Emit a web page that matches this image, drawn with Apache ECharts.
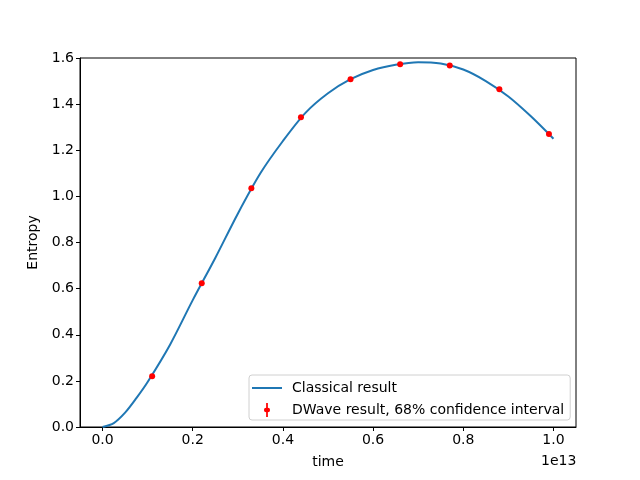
<!DOCTYPE html>
<html>
<head>
<meta charset="utf-8">
<script src="https://cdn.jsdelivr.net/npm/echarts@6/dist/echarts.min.js"></script>
<style>html,body{margin:0;padding:0;background:#fff}#c{width:640px;height:480px}</style>
</head>
<body>
<div id="c"></div>
<script>
// time in units of 1e13
const classicalTime = [0, 0.025, 0.05, 0.075, 0.1, 0.15, 0.2, 0.25, 0.3, 0.35, 0.4, 0.45, 0.5, 0.55, 0.6, 0.65, 0.7, 0.75, 0.8, 0.85, 0.9, 0.95, 1.0];
const classicalEntropy = [0, 0.017, 0.062, 0.125, 0.195, 0.358, 0.55, 0.733, 0.925, 1.10, 1.24, 1.362, 1.447, 1.508, 1.548, 1.571, 1.582, 1.576, 1.55, 1.50, 1.433, 1.347, 1.25];
const dwaveTime = [0.11, 0.22, 0.33, 0.44, 0.55, 0.66, 0.77, 0.88, 0.99];
const dwaveEntropy = [0.220, 0.623, 1.035, 1.343, 1.508, 1.573, 1.568, 1.464, 1.270];
const xTicks = [0.0, 0.2, 0.4, 0.6, 0.8, 1.0];
const yTicks = [0.0, 0.2, 0.4, 0.6, 0.8, 1.0, 1.2, 1.4, 1.6];

const font = 'DejaVu Sans';
const fs = 14;
const chart = echarts.init(document.getElementById('c'), null, {renderer: 'canvas'});
chart.setOption({
  animation: false,
  backgroundColor: '#fff',
  textStyle: {fontFamily: font},
  grid: {left: 80, right: 64, top: 58, bottom: 53, show: true, borderColor: '#000', borderWidth: 1, containLabel: false},
  xAxis: {
    type: 'value', min: -0.05, max: 1.05,
    name: 'time', nameLocation: 'middle', nameGap: 28,
    nameTextStyle: {fontFamily: font, fontSize: fs, color: '#000'},
    axisLine: {show: true, onZero: false, lineStyle: {color: '#000', width: 1}},
    axisTick: {show: true, length: 4, lineStyle: {color: '#000'}, customValues: xTicks},
    axisLabel: {show: true, fontFamily: font, fontSize: fs, color: '#000', margin: 6, customValues: xTicks,
      formatter: v => v.toFixed(1)},
    splitLine: {show: false}
  },
  yAxis: {
    type: 'value', min: 0, max: 1.6, interval: 0.2,
    name: 'Entropy', nameLocation: 'middle', nameGap: 35,
    nameTextStyle: {fontFamily: font, fontSize: fs, color: '#000'},
    axisLine: {show: true, onZero: false, lineStyle: {color: '#000', width: 1}},
    axisTick: {show: true, length: 4, lineStyle: {color: '#000'}, customValues: yTicks},
    axisLabel: {show: true, fontFamily: font, fontSize: fs, color: '#000', margin: 6, customValues: yTicks,
      formatter: v => v.toFixed(1)},
    splitLine: {show: false}
  },
  legend: {
    orient: 'vertical', left: 249, top: 375,
    backgroundColor: 'rgba(255,255,255,0.8)', borderColor: '#d0d0d0', borderWidth: 1, borderRadius: 3,
    padding: [6, 6, 3, 3], itemGap: 8, itemWidth: 30, itemHeight: 14,
    textStyle: {fontFamily: font, fontSize: fs, color: '#000', padding: [0, 0, 0, 5]},
    data: [
      {name: 'Classical result', icon: 'path://M0,0L30,0L30,2L0,2Z', itemStyle: {color: '#1f77b4'}},
      {name: 'DWave result, 68% confidence interval', icon: 'path://M4,0L6,0L6,5.5A2.5,2.5 0 0 1 6,10.5L6,16L4,16L4,10.5A2.5,2.5 0 0 1 4,5.5Z', itemStyle: {color: '#ff0000', opacity: 1}}
    ]
  },
  series: [
    {
      name: 'Classical result', type: 'line', smooth: 0.3,
      data: classicalTime.map((t, i) => [t, classicalEntropy[i]]),
      showSymbol: false, symbol: 'none',
      lineStyle: {color: '#1f77b4', width: 2}, itemStyle: {color: '#1f77b4'}, z: 2
    },
    {
      name: 'DWave result, 68% confidence interval', type: 'scatter',
      data: dwaveTime.map((t, i) => [t, dwaveEntropy[i]]),
      symbol: 'circle', symbolSize: 6,
      itemStyle: {color: '#ff0000', opacity: 1}, z: 3
    }
  ],
  graphic: [
    {type: 'text', left: 541, top: 454, style: {text: '1e13', font: '14px "DejaVu Sans"', fill: '#000'}}
  ]
});
</script>
</body>
</html>
